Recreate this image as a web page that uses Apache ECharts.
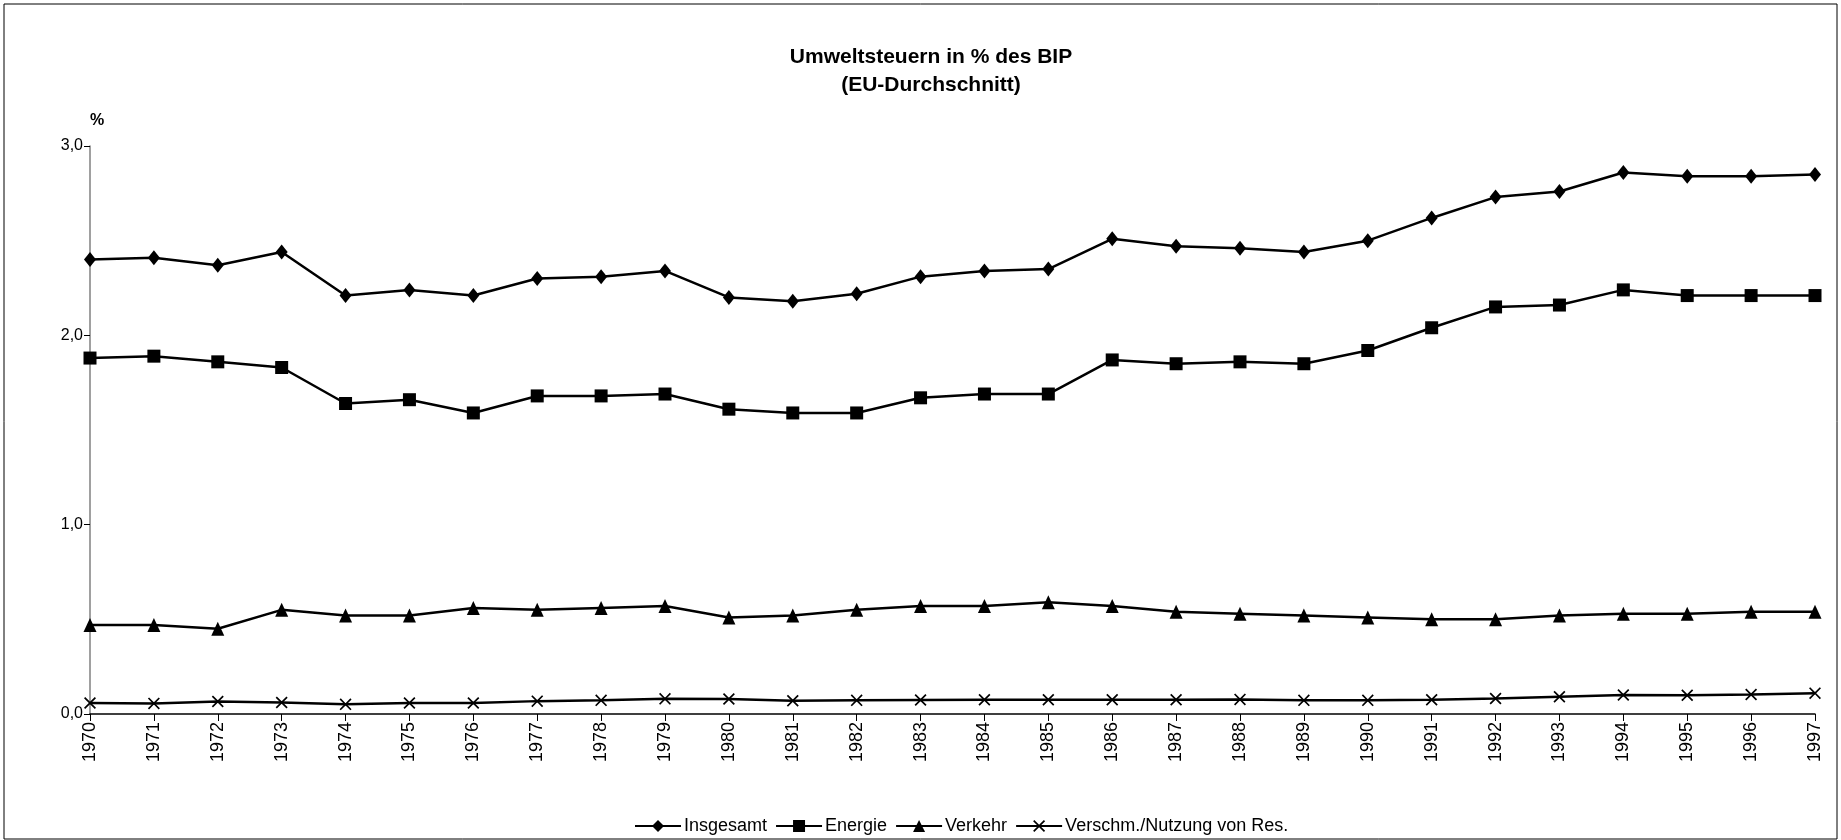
<!DOCTYPE html>
<html>
<head>
<meta charset="utf-8">
<script src="https://cdn.jsdelivr.net/npm/echarts@6/dist/echarts.min.js"></script>
<style>
  html, body { margin: 0; padding: 0; background: #fff; }
  #chart { width: 1841px; height: 840px; }
</style>
</head>
<body>
<div id="chart"></div>
<script>
// years on the x axis
var jahre = ['1970','1971','1972','1973','1974','1975','1976','1977','1978','1979',
  '1980','1981','1982','1983','1984','1985','1986','1987','1988','1989',
  '1990','1991','1992','1993','1994','1995','1996','1997'];

// % of GDP
var insgesamt = [2.40, 2.41, 2.37, 2.44, 2.21, 2.24, 2.21, 2.30, 2.31, 2.34,
  2.20, 2.18, 2.22, 2.31, 2.34, 2.35, 2.51, 2.47, 2.46, 2.44,
  2.50, 2.62, 2.73, 2.76, 2.86, 2.84, 2.84, 2.85];
var energie = [1.88, 1.89, 1.86, 1.83, 1.64, 1.66, 1.59, 1.68, 1.68, 1.69,
  1.61, 1.59, 1.59, 1.67, 1.69, 1.69, 1.87, 1.85, 1.86, 1.85,
  1.92, 2.04, 2.15, 2.16, 2.24, 2.21, 2.21, 2.21];
var verkehr = [0.47, 0.47, 0.45, 0.55, 0.52, 0.52, 0.56, 0.55, 0.56, 0.57,
  0.51, 0.52, 0.55, 0.57, 0.57, 0.59, 0.57, 0.54, 0.53, 0.52,
  0.51, 0.50, 0.50, 0.52, 0.53, 0.53, 0.54, 0.54];
var ressourcen = [0.058, 0.056, 0.066, 0.061, 0.051, 0.058, 0.058, 0.068, 0.072, 0.080,
  0.079, 0.070, 0.072, 0.074, 0.075, 0.075, 0.075, 0.075, 0.077, 0.072,
  0.072, 0.075, 0.082, 0.091, 0.100, 0.099, 0.103, 0.110];

var serienNamen = ['Insgesamt', 'Energie', 'Verkehr', 'Verschm./Nutzung von Res.'];
var yTicks = [0, 1, 2, 3];

var schrift = "'Liberation Sans', Arial, sans-serif";

// filled X shape so it renders like a marker
var kreuz = 'path://M0,1 L1,0 L5,4 L9,0 L10,1 L6,5 L10,9 L9,10 L5,6 L1,10 L0,9 L4,5 Z';

function serie(name, werte, symbol, size) {
  return {
    name: name,
    type: 'line',
    data: werte,
    symbol: symbol,
    symbolSize: size,
    showAllSymbol: true,
    lineStyle: { color: '#000', width: 2.5 },
    itemStyle: { color: '#000' },
    emphasis: { disabled: true },
    animation: false
  };
}

var myChart = echarts.init(document.getElementById('chart'));
var option = {
  backgroundColor: '#fff',
  animation: false,
  title: {
    text: 'Umweltsteuern in % des BIP\n(EU-Durchschnitt)',
    left: 926,
    top: 38,
    textAlign: 'center',
    textStyle: {
      fontFamily: schrift,
      fontSize: 21,
      fontWeight: 'bold',
      color: '#000',
      lineHeight: 28
    }
  },
  legend: {
    data: serienNamen,
    left: 629,
    top: 812,
    itemWidth: 46,
    itemHeight: 15,
    itemGap: 8,
    textStyle: { fontFamily: schrift, fontSize: 18, color: '#000', padding: [0, 0, 0, -2] }
  },
  grid: { left: 90, right: 26, top: 146, bottom: 126, containLabel: false },
  xAxis: {
    type: 'category',
    data: jahre,
    boundaryGap: false,
    axisLine: { lineStyle: { color: '#000', width: 1.5 } },
    axisTick: { show: true, length: 7, lineStyle: { color: '#000' } },
    axisLabel: {
      rotate: 90,
      interval: 0,
      margin: 8,
      fontFamily: schrift,
      fontSize: 18,
      color: '#000'
    },
    splitLine: { show: false }
  },
  yAxis: {
    type: 'value',
    min: yTicks[0],
    max: yTicks[yTicks.length - 1],
    interval: 1,
    name: '%',
    nameLocation: 'end',
    nameGap: 17,
    nameTextStyle: {
      fontFamily: schrift,
      fontSize: 16,
      fontWeight: 'bold',
      color: '#000',
      padding: [0, 0, 0, 14]
    },
    axisLine: { show: true, lineStyle: { color: '#808080', width: 1.5 } },
    axisTick: { show: true, length: 6, lineStyle: { color: '#000' } },
    axisLabel: {
      margin: 7,
      fontFamily: schrift,
      fontSize: 16,
      color: '#000',
      formatter: function (v) { return v.toFixed(1).replace('.', ','); }
    },
    splitLine: { show: false }
  },
  graphic: [{
    type: 'rect',
    shape: { x: 4, y: 4, width: 1833, height: 835 },
    style: { fill: 'none', stroke: '#000', lineWidth: 1 },
    silent: true
  }],
  series: [
    serie(serienNamen[0], insgesamt, 'diamond', [12, 15]),
    serie(serienNamen[1], energie, 'rect', 13),
    serie(serienNamen[2], verkehr, 'triangle', [13, 14]),
    serie(serienNamen[3], ressourcen, kreuz, 12)
  ]
};
myChart.setOption(option);
</script>
</body>
</html>
